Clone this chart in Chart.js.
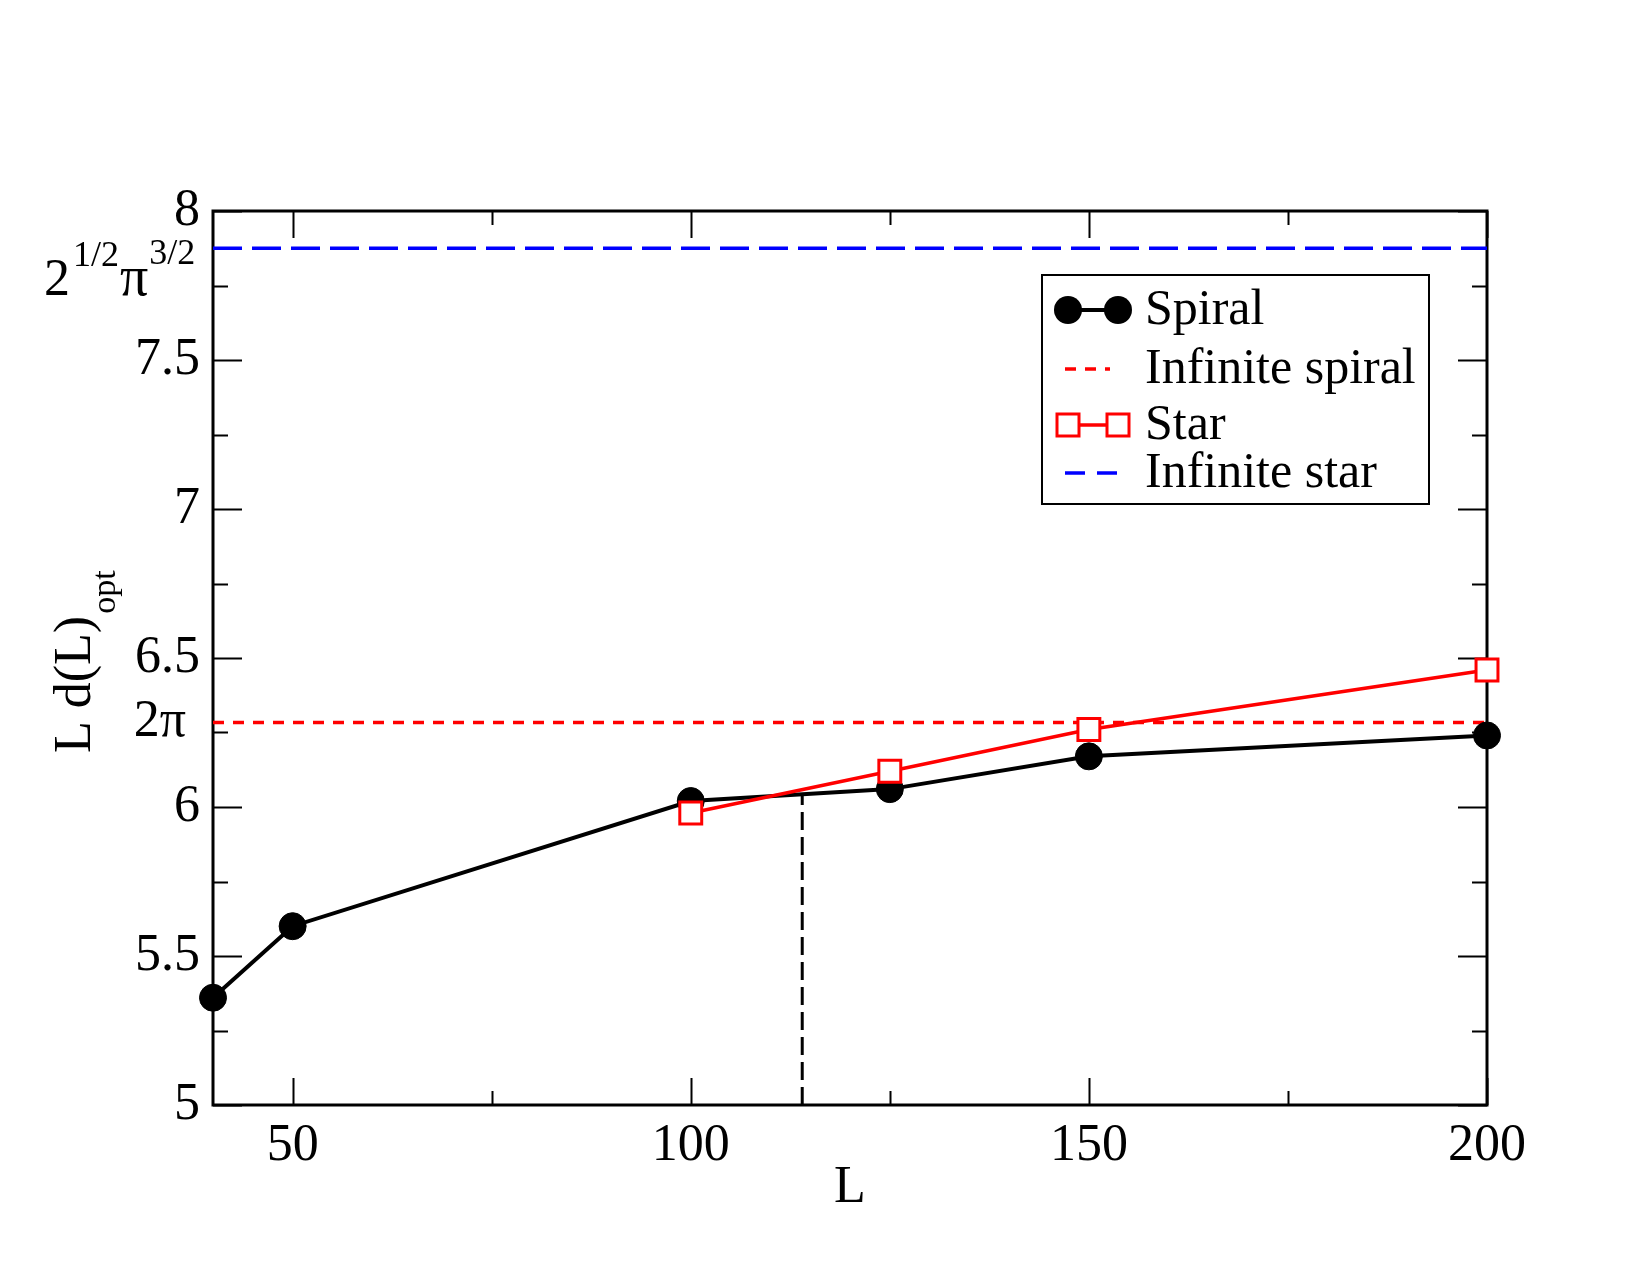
<!DOCTYPE html>
<html lang="en">
<head>
  <meta charset="UTF-8">
  <title>L d(L)opt vs L</title>
  <script src="https://cdn.jsdelivr.net/npm/chart.js"></script>
  <style>
    body { margin: 0; background: #fff; }
    canvas { display: block; }
  </style>
</head>
<body>
  <canvas id="chart" width="1650" height="1275"></canvas>

  <script>
    // data
    const spiralL = [40, 50, 100, 125, 150, 200];
    const spiralVals = [5.36, 5.60, 6.02, 6.06, 6.17, 6.24];
    const starL = [100, 125, 150, 200];
    const starVals = [5.98, 6.12, 6.26, 6.46];
    const infiniteSpiral = 2 * Math.PI;
    const infiniteStar = Math.SQRT2 * Math.pow(Math.PI, 1.5);
    const crossL = [114, 114];
    const crossVals = [5, 6.04];

    // ticks
    const xMajor = [50, 100, 150, 200];
    const xMinor = [75, 125, 175];
    const yMajor = [5, 5.5, 6, 6.5, 7, 7.5, 8];
    const yMinor = [5.25, 5.75, 6.25, 6.75, 7.25, 7.75];

    const SERIF = "'Liberation Serif', 'DejaVu Serif', serif";
    Chart.defaults.font.family = SERIF;
    Chart.defaults.color = '#000';

    const pts = (xs, ys) => xs.map((v, i) => ({ x: v, y: ys[i] }));

    // frame and inward ticks on all four sides
    const frame = {
      id: 'frame',
      beforeDatasetsDraw(chart) {
        const { ctx, chartArea: a, scales: { x, y } } = chart;
        ctx.save();
        ctx.strokeStyle = '#000';
        ctx.lineWidth = 2;
        ctx.beginPath();
        xMajor.concat(xMinor).forEach(v => {
          const len = xMajor.includes(v) ? 27 : 14;
          const px = Math.round(x.getPixelForValue(v)) + 0.5;
          ctx.moveTo(px, a.bottom); ctx.lineTo(px, a.bottom - len);
          ctx.moveTo(px, a.top); ctx.lineTo(px, a.top + len);
        });
        yMajor.concat(yMinor).forEach(v => {
          const len = yMajor.includes(v) ? 29 : 15;
          const py = Math.round(y.getPixelForValue(v)) + 0.5;
          ctx.moveTo(a.left, py); ctx.lineTo(a.left + len, py);
          ctx.moveTo(a.right, py); ctx.lineTo(a.right - len, py);
        });
        ctx.stroke();
        ctx.lineWidth = 3;
        ctx.strokeRect(a.left, a.top, a.right - a.left, a.bottom - a.top);
        ctx.restore();
      },
      afterDraw(chart) {
        const { ctx, chartArea: a, scales: { x, y } } = chart;
        ctx.save();
        ctx.fillStyle = '#000';

        // special y labels
        ctx.textAlign = 'right';
        ctx.textBaseline = 'middle';
        ctx.font = '52px ' + SERIF;
        ctx.fillText('2\u03c0', 186, y.getPixelForValue(infiniteSpiral));

        const ys = y.getPixelForValue(infiniteStar);
        ctx.textAlign = 'left';
        ctx.textBaseline = 'alphabetic';
        let cx = 44;
        ctx.font = '52px ' + SERIF;
        ctx.fillText('2', cx, ys + 47); cx += ctx.measureText('2').width + 3;
        ctx.font = '36px ' + SERIF;
        ctx.fillText('1/2', cx, ys + 18); cx += ctx.measureText('1/2').width + 1;
        ctx.font = '56px ' + SERIF;
        ctx.fillText('\u03c0', cx, ys + 47); cx += ctx.measureText('\u03c0').width + 1;
        ctx.font = '36px ' + SERIF;
        ctx.fillText('3/2', cx, ys + 16);

        // axis titles
        ctx.font = '52px ' + SERIF;
        ctx.textAlign = 'center';
        ctx.fillText('L', (a.left + a.right) / 2, 1202);

        ctx.save();
        ctx.translate(90, 753);
        ctx.rotate(-Math.PI / 2);
        ctx.textAlign = 'left';
        ctx.font = '52px ' + SERIF;
        ctx.fillText('L d(L)', 0, 0);
        const w = ctx.measureText('L d(L)').width;
        ctx.font = '34px ' + SERIF;
        ctx.fillText('opt', w + 2, 25);
        ctx.restore();

        // legend
        const bx = 1042, by = 275, bw = 387, bh = 229;
        ctx.fillStyle = '#fff';
        ctx.fillRect(bx, by, bw, bh);
        ctx.strokeStyle = '#000';
        ctx.lineWidth = 2;
        ctx.strokeRect(bx, by, bw, bh);

        const rows = [310, 369, 425, 473];
        const x1 = 1068, x2 = 1118;

        // Spiral
        ctx.lineWidth = 4;
        ctx.beginPath(); ctx.moveTo(x1, rows[0]); ctx.lineTo(x2, rows[0]); ctx.stroke();
        ctx.fillStyle = '#000';
        [x1, x2].forEach(px => { ctx.beginPath(); ctx.arc(px, rows[0], 14, 0, 2 * Math.PI); ctx.fill(); });

        // Infinite spiral
        ctx.strokeStyle = '#ff0000';
        ctx.lineWidth = 3.5;
        ctx.setLineDash([11, 9]);
        ctx.beginPath(); ctx.moveTo(1065, rows[1]); ctx.lineTo(1110, rows[1]); ctx.stroke();

        // Star
        ctx.setLineDash([]);
        ctx.beginPath(); ctx.moveTo(x1, rows[2]); ctx.lineTo(x2, rows[2]); ctx.stroke();
        ctx.fillStyle = '#fff';
        ctx.lineWidth = 3;
        [x1, x2].forEach(px => {
          ctx.fillRect(px - 11, rows[2] - 11, 22, 22);
          ctx.strokeRect(px - 11, rows[2] - 11, 22, 22);
        });

        // Infinite star
        ctx.strokeStyle = '#0000ff';
        ctx.lineWidth = 3.5;
        ctx.setLineDash([20, 12]);
        ctx.beginPath(); ctx.moveTo(1065, rows[3]); ctx.lineTo(1120, rows[3]); ctx.stroke();
        ctx.setLineDash([]);

        ctx.fillStyle = '#000';
        ctx.font = '50px ' + SERIF;
        ctx.textAlign = 'left';
        ctx.textBaseline = 'alphabetic';
        ['Spiral', 'Infinite spiral', 'Star', 'Infinite star'].forEach((t, i) => {
          ctx.fillText(t, 1145, rows[i] + 14);
        });
        ctx.restore();
      }
    };

    new Chart(document.getElementById('chart'), {
      type: 'scatter',
      data: {
        datasets: [
          {
            label: 'Star',
            data: pts(starL, starVals),
            showLine: true,
            borderColor: '#ff0000',
            borderWidth: 3.5,
            pointStyle: 'rect',
            pointRadius: 15.5,
            pointBackgroundColor: '#fff',
            pointBorderColor: '#ff0000',
            pointBorderWidth: 3,
            clip: false,
            order: 0
          },
          {
            label: 'Spiral',
            data: pts(spiralL, spiralVals),
            showLine: true,
            borderColor: '#000',
            borderWidth: 4,
            pointStyle: 'circle',
            pointRadius: 13.5,
            pointBackgroundColor: '#000',
            pointBorderColor: '#000',
            pointBorderWidth: 1,
            clip: false,
            order: 1
          },
          {
            label: 'Infinite spiral',
            data: pts([40, 200], [infiniteSpiral, infiniteSpiral]),
            showLine: true,
            borderColor: '#ff0000',
            borderWidth: 3.5,
            borderDash: [11, 9],
            pointRadius: 0,
            order: 2
          },
          {
            label: 'Infinite star',
            data: pts([40, 200], [infiniteStar, infiniteStar]),
            showLine: true,
            borderColor: '#0000ff',
            borderWidth: 3.5,
            borderDash: [29, 10],
            pointRadius: 0,
            order: 3
          },
          {
            label: 'crossing',
            data: pts(crossL, crossVals),
            showLine: true,
            borderColor: '#000',
            borderWidth: 3,
            borderDash: [18, 7],
            pointRadius: 0,
            clip: false,
            order: 4
          }
        ]
      },
      options: {
        responsive: false,
        animation: false,
        devicePixelRatio: 1,
        layout: { padding: { top: 211, right: 163, left: 0, bottom: 0 } },
        plugins: {
          legend: { display: false },
          tooltip: { enabled: false }
        },
        scales: {
          x: {
            type: 'linear',
            min: 40,
            max: 200,
            afterBuildTicks: s => { s.ticks = xMajor.concat(xMinor).sort((a, b) => a - b).map(v => ({ value: v })); },
            afterFit: s => { s.height = 170; },
            grid: { display: false, drawTicks: false },
            border: { display: false },
            ticks: {
              autoSkip: false,
              maxRotation: 0,
              padding: 10,
              color: '#000',
              font: { size: 52, family: SERIF },
              callback: v => xMajor.includes(v) ? String(v) : ''
            }
          },
          y: {
            type: 'linear',
            min: 5,
            max: 8,
            afterBuildTicks: s => { s.ticks = yMajor.concat(yMinor).sort((a, b) => a - b).map(v => ({ value: v })); },
            afterFit: s => { s.width = 213; },
            grid: { display: false, drawTicks: false },
            border: { display: false },
            ticks: {
              autoSkip: false,
              padding: 13,
              color: '#000',
              font: { size: 52, family: SERIF },
              callback: v => yMajor.includes(v) ? String(v) : ''
            }
          }
        }
      },
      plugins: [frame]
    });
  </script>
</body>
</html>
